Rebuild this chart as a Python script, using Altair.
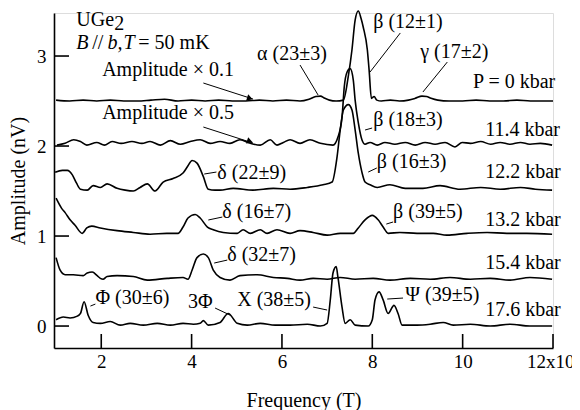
import altair as alt
import pandas as pd

# ---------------- data (x in 10^3 T, y in nV incl. offsets) ----------------
p0_x = [1.0, 1.3, 1.6, 1.9, 2.2, 2.5, 2.8, 3.1, 3.4, 3.7, 4.0, 4.3, 4.6, 4.9, 5.2, 5.5, 5.8, 6.1, 6.4, 6.6,
        6.75, 6.85, 6.95, 7.05, 7.2, 7.36, 7.47, 7.55, 7.62, 7.69, 7.75, 7.8, 7.89, 7.93, 7.98, 8.04, 8.1, 8.2,
        8.4, 8.6, 8.8, 8.95, 9.1, 9.2, 9.3, 9.45, 9.7, 10.0, 10.3, 10.6, 10.9, 11.2, 11.5, 11.8, 12.0]
p0_y = [2.51, 2.50, 2.51, 2.50, 2.51, 2.50, 2.50, 2.51, 2.52, 2.50, 2.51, 2.50, 2.51, 2.50, 2.50, 2.51, 2.50,
        2.51, 2.50, 2.52, 2.55, 2.555, 2.53, 2.51, 2.50, 2.51, 2.78, 3.07, 3.40, 3.50, 3.42, 3.32, 3.07, 2.84,
        2.53, 2.55, 2.51, 2.50, 2.51, 2.50, 2.51, 2.53, 2.555, 2.55, 2.53, 2.51, 2.50, 2.50, 2.51, 2.50, 2.50,
        2.51, 2.50, 2.50, 2.50]

p114_x = [1.02, 1.20, 1.39, 1.54, 1.68, 1.90, 2.07, 2.24, 2.44, 2.68, 2.90, 3.08, 3.31, 3.53, 3.75, 3.97, 4.19,
          4.41, 4.63, 4.85, 5.07, 5.30, 5.52, 5.74, 5.89, 6.03, 6.18, 6.40, 6.62, 6.85, 7.13, 7.24, 7.33, 7.38,
          7.44, 7.51, 7.58, 7.62, 7.69, 7.77, 7.84, 7.95, 8.11, 8.28, 8.50, 8.73, 8.95, 9.17, 9.39, 9.61, 9.83,
          9.99, 10.17, 10.40, 10.62, 10.83, 11.05, 11.28, 11.49, 11.72, 11.98]
p114_y = [2.01, 2.03, 2.07, 2.05, 2.01, 2.04, 2.01, 2.05, 2.03, 2.05, 2.03, 2.05, 2.01, 2.06, 2.02, 2.05, 2.07,
          2.03, 2.05, 2.03, 2.07, 2.03, 2.01, 2.07, 2.01, 2.04, 2.07, 2.03, 2.07, 2.03, 2.01, 2.10, 2.32, 2.66,
          2.82, 2.86, 2.73, 2.51, 2.26, 2.07, 2.02, 2.04, 2.01, 2.04, 2.02, 2.04, 2.01, 2.04, 2.02, 2.04, 1.99,
          2.04, 2.03, 2.05, 2.02, 2.04, 2.02, 2.04, 2.02, 2.03, 2.01]

p122_x = [0.98, 1.14, 1.25, 1.36, 1.45, 1.54, 1.69, 1.82, 1.98, 2.13, 2.35, 2.53, 2.71, 2.86, 3.02, 3.19, 3.37,
          3.59, 3.81, 3.92, 4.01, 4.12, 4.26, 4.37, 4.52, 4.63, 4.92, 5.36, 5.81, 6.18, 6.56, 6.91, 7.11, 7.22,
          7.29, 7.36, 7.47, 7.55, 7.62, 7.69, 7.77, 7.84, 7.95, 8.11, 8.39, 8.73, 9.12, 9.50, 9.94, 10.40, 10.83,
          11.28, 11.61, 11.98]
p122_y = [1.71, 1.73, 1.73, 1.68, 1.59, 1.52, 1.51, 1.56, 1.54, 1.58, 1.53, 1.51, 1.50, 1.54, 1.58, 1.50, 1.60,
          1.64, 1.70, 1.78, 1.84, 1.81, 1.66, 1.52, 1.51, 1.51, 1.53, 1.51, 1.53, 1.52, 1.54, 1.57, 1.60, 1.88,
          2.18, 2.40, 2.46, 2.40, 2.18, 1.92, 1.71, 1.60, 1.57, 1.54, 1.57, 1.53, 1.53, 1.56, 1.52, 1.54, 1.52,
          1.54, 1.52, 1.51]

p132_x = [1.0, 1.12, 1.20, 1.31, 1.42, 1.58, 1.68, 1.79, 1.98, 2.35, 2.71, 3.08, 3.45, 3.70, 3.81, 3.92, 4.08,
          4.19, 4.35, 4.48, 4.70, 5.01, 5.14, 5.30, 5.52, 5.67, 5.89, 6.18, 6.40, 6.69, 7.0, 7.29, 7.58, 7.69,
          7.84, 8.0, 8.13, 8.24, 8.35, 8.61, 8.99, 9.35, 9.65, 10.1, 10.54, 10.98, 11.42, 11.98]
p132_y = [1.42, 1.31, 1.26, 1.18, 1.12, 1.03, 1.09, 1.11, 1.09, 1.06, 1.04, 1.02, 1.03, 1.03, 1.10, 1.20, 1.24,
          1.20, 1.10, 1.07, 1.04, 1.03, 1.07, 1.03, 1.07, 1.03, 1.07, 1.03, 1.06, 1.04, 1.01, 1.03, 1.03, 1.09,
          1.18, 1.23, 1.18, 1.10, 1.03, 1.04, 1.03, 1.03, 1.01, 1.03, 1.04, 1.03, 1.03, 1.02]

p154_x = [1.0, 1.09, 1.20, 1.38, 1.60, 1.69, 1.80, 1.91, 1.98, 2.04, 2.13, 2.35, 2.71, 3.02, 3.46, 3.81, 3.92,
          4.01, 4.12, 4.26, 4.37, 4.48, 4.63, 4.85, 5.07, 5.45, 5.81, 6.12, 6.40, 6.69, 7.0, 7.29, 7.62, 8.02,
          8.39, 8.84, 9.28, 9.72, 10.17, 10.61, 11.05, 11.49, 11.98]
p154_y = [0.76, 0.62, 0.57, 0.57, 0.56, 0.59, 0.60, 0.56, 0.53, 0.52, 0.55, 0.56, 0.55, 0.51, 0.53, 0.54, 0.52,
          0.62, 0.76, 0.80, 0.76, 0.62, 0.54, 0.51, 0.56, 0.57, 0.54, 0.53, 0.51, 0.53, 0.52, 0.54, 0.52, 0.53,
          0.51, 0.53, 0.52, 0.54, 0.52, 0.53, 0.51, 0.54, 0.52]

p176_x = [1.0, 1.16, 1.31, 1.47, 1.54, 1.62, 1.71, 1.82, 1.98, 2.20, 2.42, 2.64, 2.93, 3.24, 3.53, 3.81, 4.04,
          4.19, 4.26, 4.37, 4.63, 4.81, 5.01, 5.23, 5.52, 5.85, 6.18, 6.56, 6.85, 7.0, 7.07, 7.13, 7.2, 7.24,
          7.33, 7.40, 7.51, 7.62, 7.91, 8.0, 8.06, 8.15, 8.24, 8.35, 8.48, 8.57, 8.66, 8.99, 9.28, 9.57, 9.79,
          10.17, 10.61, 11.05, 11.49, 11.98]
p176_y = [0.07, 0.10, 0.09, 0.11, 0.14, 0.27, 0.12, 0.04, 0.03, 0.05, 0.01, 0.03, 0.01, 0.03, 0.01, 0.03, 0.02,
          0.03, 0.06, 0.01, 0.04, 0.14, 0.03, 0.01, 0.03, 0.01, 0.01, 0.02, 0.00, 0.03, 0.29, 0.59, 0.66, 0.54,
          0.21, 0.03, 0.07, 0.01, 0.00, 0.07, 0.29, 0.38, 0.29, 0.14, 0.23, 0.14, 0.01, 0.01, 0.02, 0.04, 0.01,
          0.02, 0.00, 0.02, 0.00, 0.00]

series = [("P = 0 kbar", p0_x, p0_y), ("11.4 kbar", p114_x, p114_y), ("12.2 kbar", p122_x, p122_y),
          ("13.2 kbar", p132_x, p132_y), ("15.4 kbar", p154_x, p154_y), ("17.6 kbar", p176_x, p176_y)]

x_ticks = [2, 4, 6, 8, 10, 12]
y_ticks = [0, 1, 2, 3]

# annotation texts (left-aligned)
ann_text = ["α (23±3)", "β (12±1)", "γ (17±2)", "P = 0 kbar", "Amplitude × 0.1", "Amplitude × 0.5",
            "11.4 kbar", "β (18±3)", "12.2 kbar", "β (16±3)", "δ (22±9)", "13.2 kbar", "β (39±5)",
            "δ (16±7)", "15.4 kbar", "δ (32±7)", "17.6 kbar", "Ψ (39±5)", "X (38±5)", "3Φ", "Φ (30±6)",
            "UGe", "//", "= 50 mK"]
ann_x = [5.45, 8.02, 9.06, 10.23, 2.02, 2.02, 10.5, 8.02, 10.5, 8.1, 4.57, 10.5, 8.46, 4.68, 10.5, 4.79,
         10.5, 8.73, 5.01, 3.92, 1.87, 1.447, 1.80, 2.82]
ann_y = [3.02, 3.378, 3.044, 2.711, 2.844, 2.367, 2.178, 2.289, 1.711, 1.822, 1.70, 1.178, 1.267, 1.267,
         0.70, 0.789, 0.178, 0.344, 0.289, 0.267, 0.311, 3.40, 3.144, 3.144]
sub_text = ["2"]
sub_x = [2.29]
sub_y = [3.361]
ital_text = ["B", "b,", "T"]
ital_x = [1.447, 2.14, 2.49]
ital_y = [3.144, 3.144, 3.144]

# leader lines and arrows (from -> to)
lead_x = [6.40, 8.62, 9.66, 7.84, 7.91, 4.28, 8.31, 4.37, 4.50, 8.33, 6.69, 4.52, 1.76, 4.26, 4.26]
lead_y = [2.90, 3.256, 2.933, 2.178, 1.711, 1.689, 1.133, 1.178, 0.70, 0.30, 0.211, 0.20, 0.222, 2.70, 2.211]
lead_x2 = [6.80, 7.95, 9.12, 7.996, 8.10, 4.55, 8.46, 4.68, 4.79, 8.68, 7.00, 4.85, 1.87, 5.36, 5.36]
lead_y2 = [2.567, 2.822, 2.60, 2.20, 1.756, 1.711, 1.156, 1.211, 0.733, 0.311, 0.178, 0.122, 0.244, 2.522, 2.033]
head_x = [5.27, 5.27]
head_y = [2.533, 2.056]

# ---------------- build tables ----------------
rows = []
for name, xs, ys in series:
    assert len(xs) == len(ys), name
    for i, (a, b) in enumerate(zip(xs, ys)):
        rows.append({"series": name, "i": i, "x": a, "y": b})
df = pd.DataFrame(rows)
ann = pd.DataFrame({"label": ann_text, "x": ann_x, "y": ann_y})
sub = pd.DataFrame({"label": sub_text, "x": sub_x, "y": sub_y})
ital = pd.DataFrame({"label": ital_text, "x": ital_x, "y": ital_y})
lead = pd.DataFrame({"x": lead_x, "y": lead_y, "x2": lead_x2, "y2": lead_y2})
heads = pd.DataFrame({"x": head_x, "y": head_y})
xt = pd.DataFrame({"x": x_ticks})
yt = pd.DataFrame({"y": y_ticks})

FONT = "Liberation Serif"
H = 335
xs_ = alt.Scale(domain=[0.954, 12.0], nice=False, zero=False)
ys_ = alt.Scale(domain=[-0.244, 3.478], nice=False, zero=False)

x_axis = alt.Axis(values=x_ticks, title="Frequency (T)", grid=False, ticks=False, domain=True,
                  domainColor="black", domainWidth=1.6, labelFont=FONT, labelFontSize=19,
                  labelColor="black", labelPadding=4, labelFlush=False, labelOverlap=False,
                  labelExpr="datum.value == 12 ? '12x10³' : datum.label",
                  titleFont=FONT, titleFontSize=20, titleFontWeight="normal", titleColor="black",
                  titlePadding=19)
y_axis = alt.Axis(values=y_ticks, title="Amplitude (nV)", grid=False, ticks=False, domain=True,
                  domainColor="black", domainWidth=1.6, labelFont=FONT, labelFontSize=19,
                  labelColor="black", labelPadding=8, labelFlush=False, labelOverlap=False,
                  format="d",
                  titleFont=FONT, titleFontSize=20, titleFontWeight="normal", titleColor="black",
                  titlePadding=8)

lines = alt.Chart(df).mark_line(color="black", strokeWidth=1.6, interpolate="monotone").encode(
    x=alt.X("x:Q", scale=xs_, axis=x_axis),
    y=alt.Y("y:Q", scale=ys_, axis=y_axis),
    detail="series:N",
    order="i:Q",
)

xtick = alt.Chart(xt).mark_rule(color="black", strokeWidth=1.6).encode(
    x=alt.X("x:Q", scale=xs_, axis=x_axis), y=alt.value(H), y2=alt.value(H - 14))
ytick = alt.Chart(yt).mark_rule(color="black", strokeWidth=1.6).encode(
    y=alt.Y("y:Q", scale=ys_, axis=y_axis), x=alt.value(0), x2=alt.value(15))

texts = alt.Chart(ann).mark_text(font=FONT, fontSize=20, align="left", baseline="middle").encode(
    x=alt.X("x:Q", scale=xs_, axis=x_axis), y=alt.Y("y:Q", scale=ys_, axis=y_axis), text="label:N")
subs = alt.Chart(sub).mark_text(font=FONT, fontSize=20, align="left", baseline="middle").encode(
    x=alt.X("x:Q", scale=xs_, axis=x_axis), y=alt.Y("y:Q", scale=ys_, axis=y_axis), text="label:N")
itals = alt.Chart(ital).mark_text(font=FONT, fontSize=20, fontStyle="italic", align="left",
                                  baseline="middle").encode(
    x=alt.X("x:Q", scale=xs_, axis=x_axis), y=alt.Y("y:Q", scale=ys_, axis=y_axis), text="label:N")

leaders = alt.Chart(lead).mark_rule(color="black", strokeWidth=1).encode(
    x=alt.X("x:Q", scale=xs_, axis=x_axis), y=alt.Y("y:Q", scale=ys_, axis=y_axis), x2="x2:Q", y2="y2:Q")
arrowheads = alt.Chart(heads).mark_point(shape="triangle", filled=True, color="black", size=45,
                                         angle=108, opacity=1).encode(
    x=alt.X("x:Q", scale=xs_, axis=x_axis), y=alt.Y("y:Q", scale=ys_, axis=y_axis))

chart = alt.layer(lines, xtick, ytick, leaders, arrowheads, texts, subs, itals).properties(
    width=499, height=H,
    padding={"left": 46, "top": 5, "right": 19, "bottom": 62},
    autosize=alt.AutoSizeParams(type="none"),
)

chart.save("out.html", embed_options={"renderer": "svg", "actions": False})
